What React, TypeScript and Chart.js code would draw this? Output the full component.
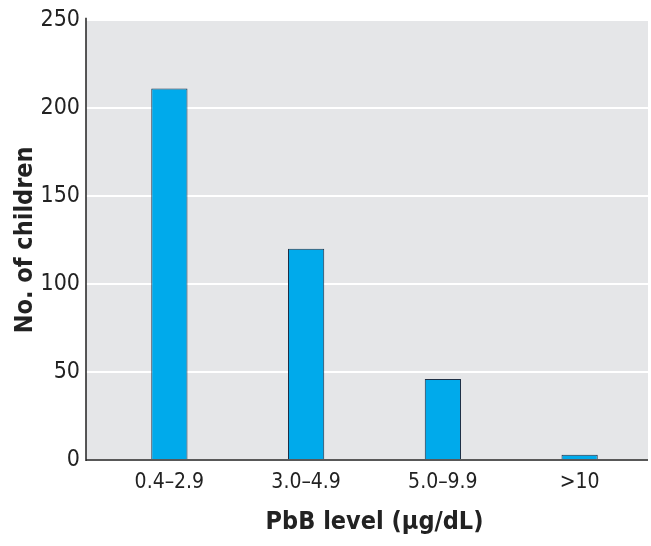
import React, { useEffect, useRef } from "react";
import { Chart, registerables } from "chart.js";

Chart.register(...registerables);

const categories = ["0.4\u20132.9", "3.0\u20134.9", "5.0\u20139.9", ">10"];
const childrenCounts = [211, 120, 46, 3];
const yTicks = [0, 50, 100, 150, 200, 250];

const FONT = "'Liberation Sans Narrow', 'DejaVu Sans Condensed', 'Liberation Sans', sans-serif";
const AXIS_X = 86;

const plotBg = {
  id: "plotBg",
  beforeDraw(chart: any) {
    const { ctx, chartArea } = chart;
    ctx.save();
    ctx.fillStyle = "#E5E6E8";
    ctx.fillRect(AXIS_X, chartArea.top, chartArea.right - AXIS_X, chartArea.bottom - chartArea.top);
    ctx.restore();
  },
  afterDraw(chart: any) {
    const { ctx, chartArea } = chart;
    ctx.save();
    ctx.strokeStyle = "#222";
    ctx.lineWidth = 1.5;
    ctx.beginPath();
    ctx.moveTo(AXIS_X, chartArea.top - 2);
    ctx.lineTo(AXIS_X, chartArea.bottom + 1);
    ctx.moveTo(AXIS_X, chartArea.bottom);
    ctx.lineTo(chartArea.right, chartArea.bottom);
    ctx.stroke();
    ctx.restore();
  },
};

export default function App() {
  const ref = useRef<HTMLCanvasElement>(null);
  useEffect(() => {
    const chart = new Chart(ref.current!, {
      type: "bar",
      data: {
        labels: categories,
        datasets: [
          {
            data: childrenCounts,
            backgroundColor: "#00AAEB",
            borderColor: "#1E2F45",
            borderWidth: 1,
            categoryPercentage: 1,
            barPercentage: 0.265,
          },
        ],
      },
      options: {
        responsive: false,
        animation: false,
        layout: { padding: { top: 19, right: 3, left: 0, bottom: 0 } },
        plugins: { legend: { display: false }, tooltip: { enabled: false } },
        scales: {
          x: {
            grid: { display: false, drawTicks: false },
            border: { display: false },
            ticks: { color: "#222", font: { family: FONT, size: 21 }, padding: 10 },
            title: {
              display: true,
              text: "PbB level (\u03bcg/dL)",
              color: "#222",
              font: { family: FONT, size: 25, weight: "bold" },
              padding: { top: 0, bottom: 9 },
            },
            afterFit(scale: any) {
              scale.height = 86;
            },
          },
          y: {
            min: 0,
            max: 250,
            afterBuildTicks(scale: any) {
              scale.ticks = yTicks.map((v) => ({ value: v }));
            },
            grid: { color: "#FFFFFF", lineWidth: 2, drawTicks: true, tickLength: 15, tickColor: "#FFFFFF" },
            border: { display: false },
            ticks: { color: "#222", font: { family: FONT, size: 23 }, padding: 6 },
            title: {
              display: true,
              text: "No. of children",
              color: "#222",
              font: { family: FONT, size: 25, weight: "bold" },
              padding: { top: 10, bottom: 0 },
            },
            afterFit(scale: any) {
              scale.width = 101;
            },
          },
        },
      },
      plugins: [plotBg],
    });
    return () => chart.destroy();
  }, []);
  return (
    <div style={{ position: "fixed", left: 0, top: 0, width: 651, height: 546, background: "#fff" }}>
      <canvas ref={ref} width={651} height={546} style={{ display: "block" }} />
    </div>
  );
}
